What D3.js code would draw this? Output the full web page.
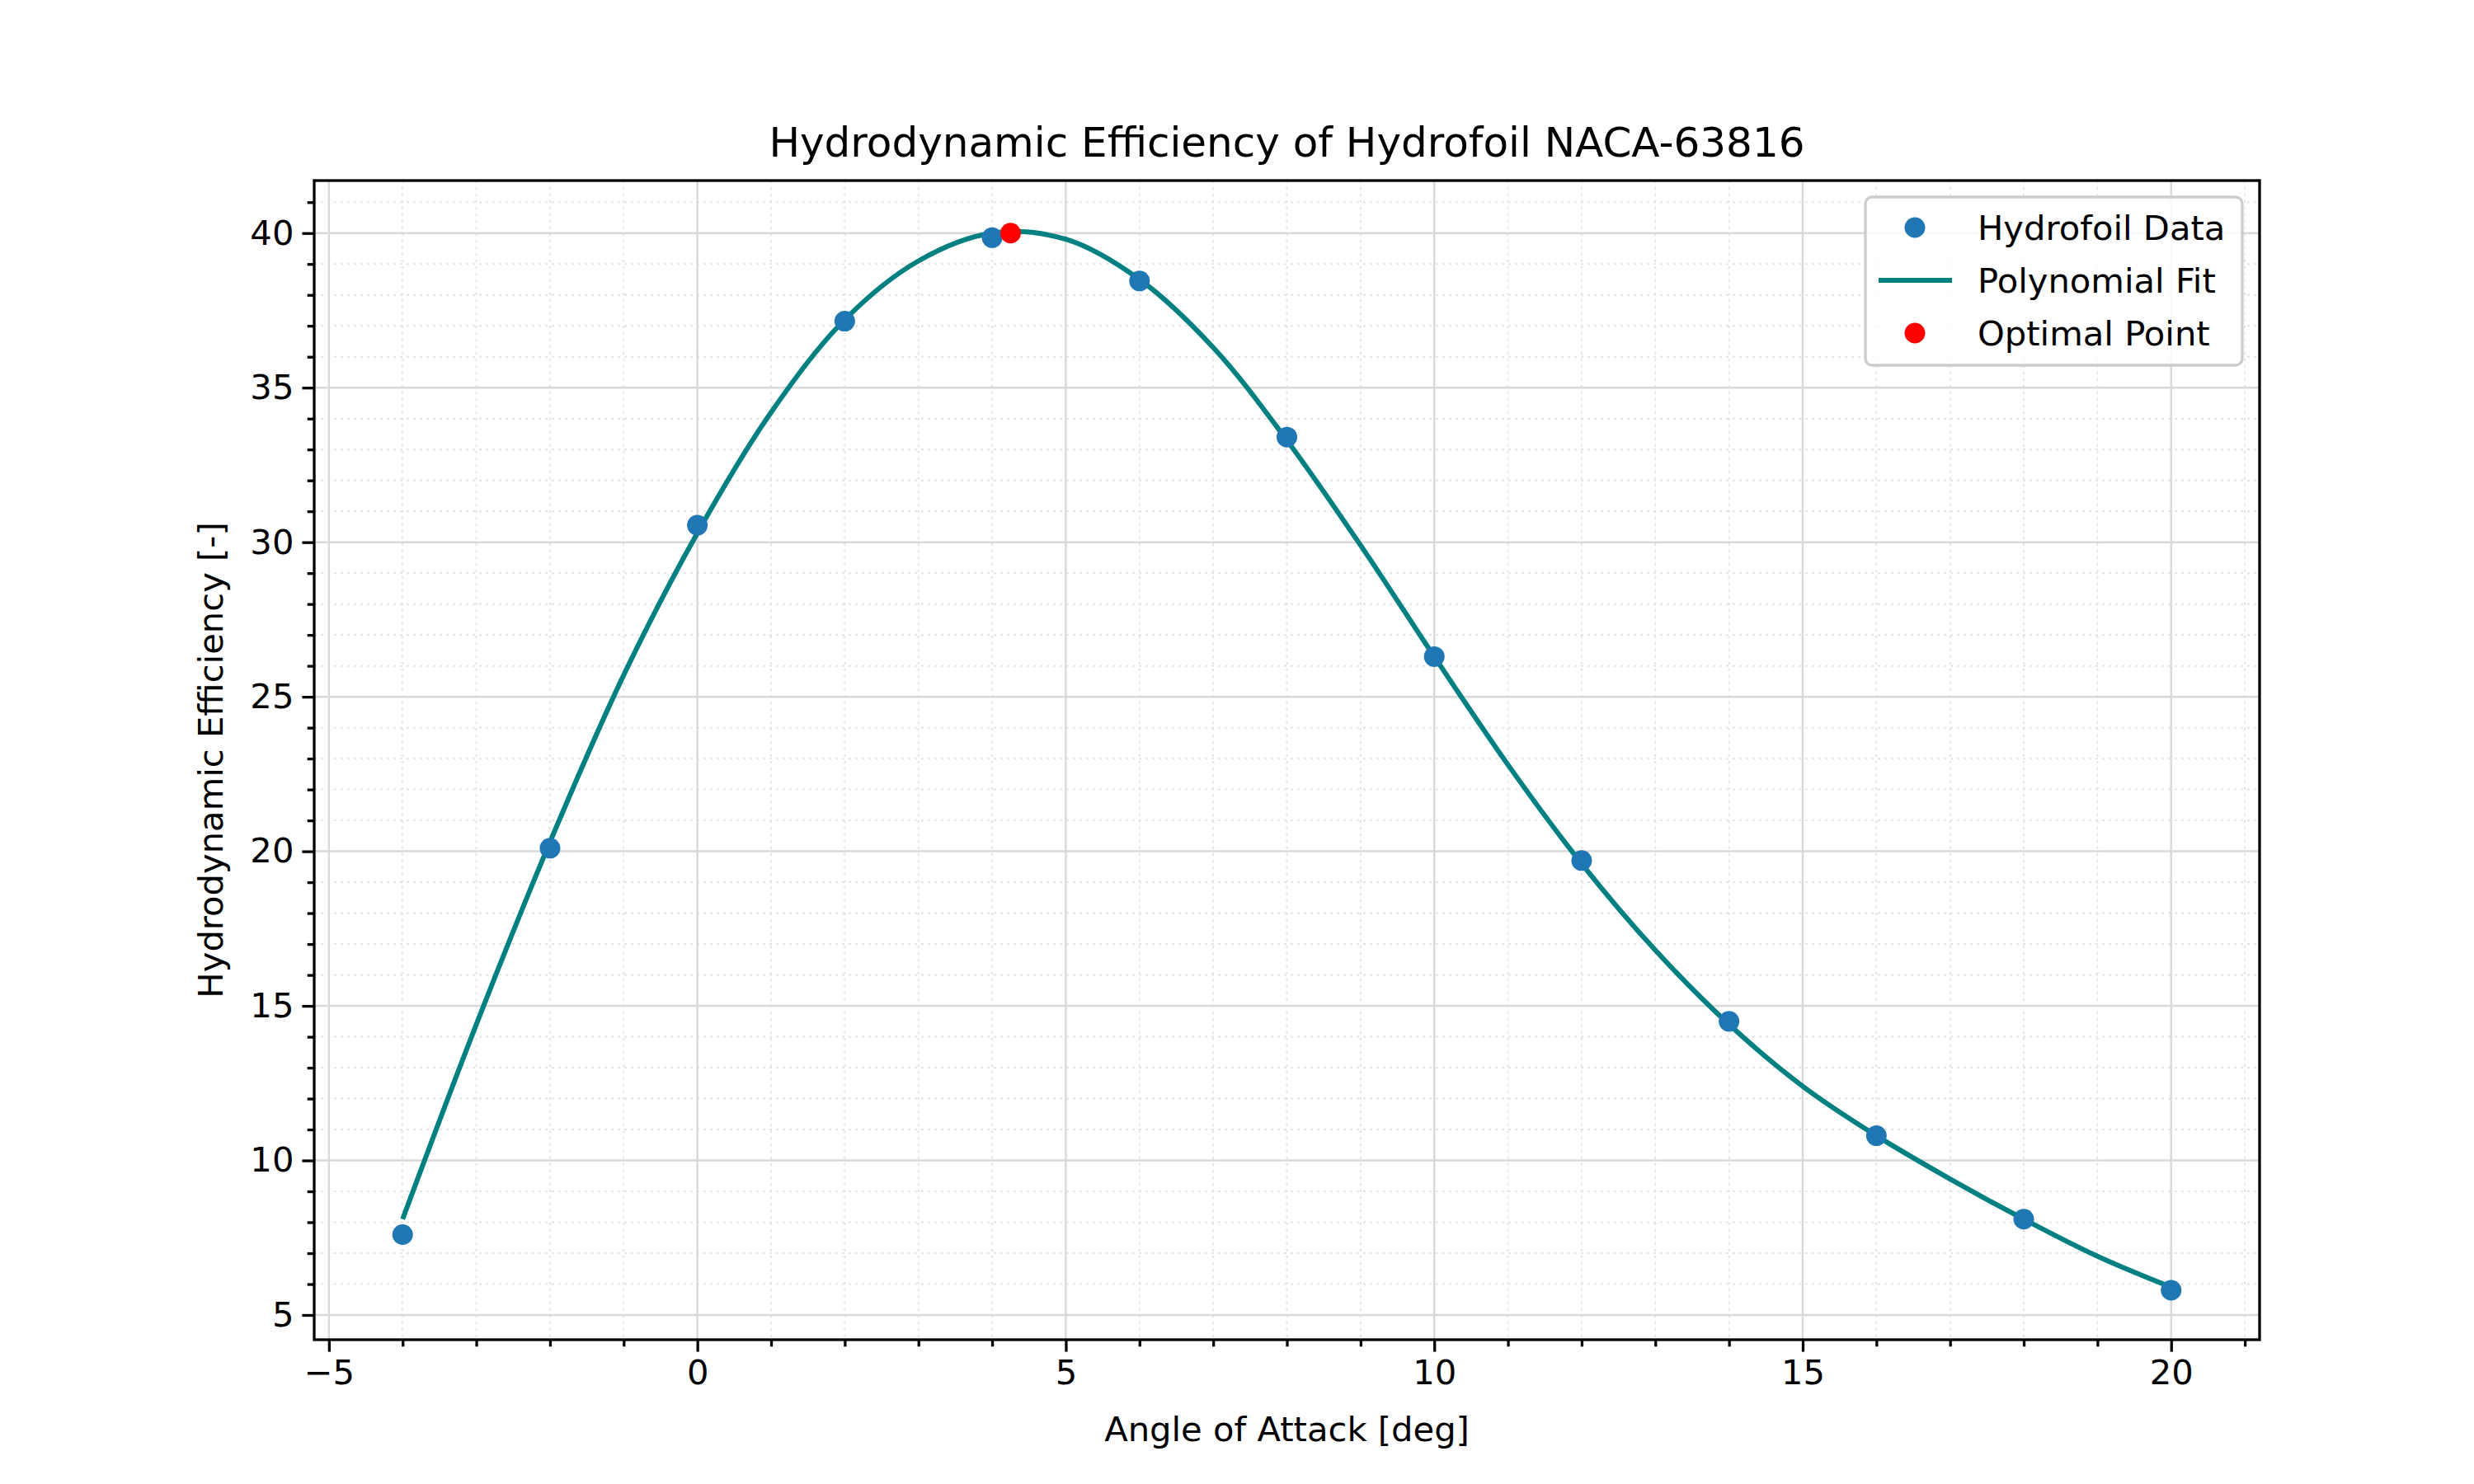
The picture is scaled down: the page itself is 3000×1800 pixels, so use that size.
<!DOCTYPE html>
<html><head><meta charset="utf-8">
<script src="https://cdn.jsdelivr.net/npm/d3@7"></script>
<style>body{margin:0;background:#fff}svg{font-family:"DejaVu Sans",sans-serif}</style>
</head><body>
<svg id="chart" width="3000" height="1800"></svg>
<script>
// measured hydrofoil data
const angles = [-4, -2, 0, 2, 4, 6, 8, 10, 12, 14, 16, 18, 20];
const efficiency = [7.6, 20.1, 30.55, 37.15, 39.85, 38.45, 33.4, 26.3, 19.7, 14.5, 10.8, 8.1, 5.8];
// fit curve
const fitAngles = [-4, -3, -2, -1, 0, 1, 2, 3, 4, 5, 6, 7, 8, 9, 10, 11, 12, 13, 14, 15, 16, 17, 18, 19, 20];
const fitValues = [8.1, 14.4, 20.3, 25.7, 30.3, 34.2, 37.2, 39.1, 40.0, 39.8, 38.5, 36.3, 33.3, 29.9, 26.3, 22.8, 19.6, 16.8, 14.4, 12.4, 10.8, 9.4, 8.1, 6.9, 5.9];
const optimal = [{ x: 4.25, y: 40.0 }];
const xTicks = [-5, 0, 5, 10, 15, 20];
const yTicks = [5, 10, 15, 20, 25, 30, 35, 40];

const margin = { top: 219, bottom: 175, left: 381, right: 260 };
const width = 3000, height = 1800;
const boundsWidth = width - margin.left - margin.right;
const boundsHeight = height - margin.top - margin.bottom;

const svg = d3.select('#chart');

const scaleX = d3.scaleLinear().domain([-5.2, 21.2]).range([margin.left, margin.left + boundsWidth]);
const scaleY = d3.scaleLinear().domain([4.2, 41.7]).range([margin.top + boundsHeight, margin.top]);

const minorX = d3.range(-5, 22, 1).filter((v) => v % 5 !== 0);
const minorY = d3.range(5, 42, 1).filter((v) => v % 5 !== 0);

const grid = svg.append('g');
grid.selectAll('.mx').data(minorX).enter().append('line')
  .attr('x1', (d) => scaleX(d)).attr('x2', (d) => scaleX(d))
  .attr('y1', margin.top).attr('y2', margin.top + boundsHeight)
  .style('stroke', '#e4e4e4').style('stroke-width', 2).style('stroke-dasharray', '3,5');
grid.selectAll('.my').data(minorY).enter().append('line')
  .attr('y1', (d) => scaleY(d)).attr('y2', (d) => scaleY(d))
  .attr('x1', margin.left).attr('x2', margin.left + boundsWidth)
  .style('stroke', '#e4e4e4').style('stroke-width', 2).style('stroke-dasharray', '3,5');
grid.selectAll('.Mx').data(xTicks).enter().append('line')
  .attr('x1', (d) => scaleX(d)).attr('x2', (d) => scaleX(d))
  .attr('y1', margin.top).attr('y2', margin.top + boundsHeight)
  .style('stroke', '#d9d9d9').style('stroke-width', 2.5);
grid.selectAll('.My').data(yTicks).enter().append('line')
  .attr('y1', (d) => scaleY(d)).attr('y2', (d) => scaleY(d))
  .attr('x1', margin.left).attr('x2', margin.left + boundsWidth)
  .style('stroke', '#d9d9d9').style('stroke-width', 2.5);

const line = d3.line().x((d) => scaleX(d[0])).y((d) => scaleY(d[1])).curve(d3.curveCatmullRom);
svg.append('path').datum(fitAngles.map((a, i) => [a, fitValues[i]]))
  .attr('d', line).style('fill', 'none').style('stroke', '#008080').style('stroke-width', 6);

svg.selectAll('.pt').data(angles.map((a, i) => [a, efficiency[i]])).enter().append('circle')
  .attr('cx', (d) => scaleX(d[0])).attr('cy', (d) => scaleY(d[1])).attr('r', 12.5)
  .style('fill', '#1f77b4');
svg.selectAll('.opt').data(optimal).enter().append('circle')
  .attr('cx', (d) => scaleX(d.x)).attr('cy', (d) => scaleY(d.y)).attr('r', 12.5)
  .style('fill', 'red');

// axes
const xAxis = svg.append('g').attr('transform', `translate(0, ${margin.top + boundsHeight})`)
  .call(d3.axisBottom(scaleX).tickValues(xTicks).tickSize(14.6).tickPadding(10).tickFormat((d) => d < 0 ? '\u2212' + (-d) : d));
xAxis.append('g').call(d3.axisBottom(scaleX).tickValues(minorX).tickSize(8.3).tickFormat(''));
const yAxis = svg.append('g').attr('transform', `translate(${margin.left}, 0)`)
  .call(d3.axisLeft(scaleY).tickValues(yTicks).tickSize(14.6).tickPadding(10));
yAxis.append('g').call(d3.axisLeft(scaleY).tickValues(minorY).tickSize(8.3).tickFormat(''));
svg.selectAll('.domain').remove();
svg.selectAll('.tick line').style('stroke', '#000').style('stroke-width', 3.3);
svg.selectAll('.tick text').style('font-size', '41.7px').style('fill', '#000').style('font-family', '"DejaVu Sans"');

svg.append('rect').attr('x', margin.left).attr('y', margin.top)
  .attr('width', boundsWidth).attr('height', boundsHeight)
  .style('fill', 'none').style('stroke', '#000').style('stroke-width', 3.3);

svg.append('text').attr('x', margin.left + boundsWidth / 2).attr('y', 190)
  .attr('text-anchor', 'middle').style('font-size', '50px').text('Hydrodynamic Efficiency of Hydrofoil NACA-63816');
svg.append('text').attr('x', margin.left + boundsWidth / 2).attr('y', 1748)
  .attr('text-anchor', 'middle').style('font-size', '41.7px').text('Angle of Attack [deg]');
svg.append('text').attr('transform', `translate(270, ${margin.top + boundsHeight / 2}) rotate(-90)`)
  .attr('text-anchor', 'middle').style('font-size', '41.7px').text('Hydrodynamic Efficiency [-]');

// legend
const lg = svg.append('g');
lg.append('rect').attr('x', 2262).attr('y', 239).attr('width', 457).attr('height', 204).attr('rx', 8)
  .style('fill', '#fff').style('fill-opacity', 0.8).style('stroke', '#ccc').style('stroke-width', 3.3);
const entries = [
  { label: 'Hydrofoil Data', kind: 'dot', color: '#1f77b4' },
  { label: 'Polynomial Fit', kind: 'line', color: '#008080' },
  { label: 'Optimal Point', kind: 'dot', color: 'red' },
];
entries.forEach((e, i) => {
  const y = 276 + i * 64;
  if (e.kind === 'dot') lg.append('circle').attr('cx', 2322).attr('cy', y).attr('r', 12.5).style('fill', e.color);
  else lg.append('line').attr('x1', 2278).attr('x2', 2367).attr('y1', y).attr('y2', y).style('stroke', e.color).style('stroke-width', 6);
  lg.append('text').attr('x', 2398).attr('y', y + 15).style('font-size', '41.7px').text(e.label);
});
</script>
</body></html>
